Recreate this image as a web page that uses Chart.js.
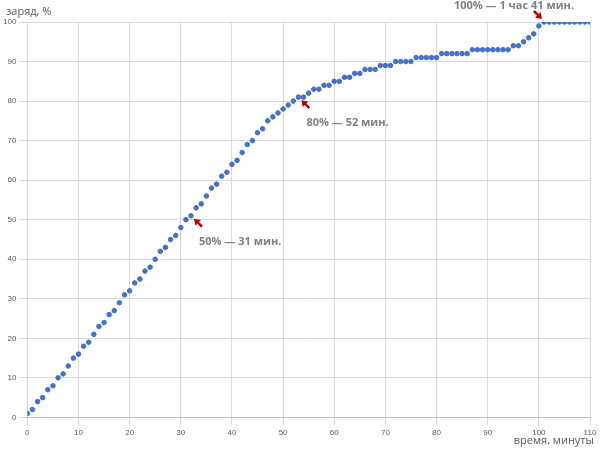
<!DOCTYPE html><html><head><meta charset="utf-8">
<script src="https://cdn.jsdelivr.net/npm/chart.js@4"></script>
<style>body{margin:0;background:#fff}#w{width:600px;height:455px}</style></head><body>
<div id="w"><canvas id="c"></canvas></div>
<script>
const minutes=[...Array(111).keys()];
const charge=[1,2,4,5,7,8,10,11,13,15,16,18,19,21,23,24,26,27,29,31,32,34,35,37,38,40,42,43,45,46,48,50,51,53,54,56,58,59,61,62,64,65,67,69,70,72,73,75,76,77,78,79,80,81,81,82,83,83,84,84,85,85,86,86,87,87,88,88,88,89,89,89,90,90,90,90,91,91,91,91,91,92,92,92,92,92,92,93,93,93,93,93,93,93,93,94,94,95,96,97,99,100,100,100,100,100,100,100,100,100,100,100];
const notes=[{x:32,y:51,t:"50% — 31 мин.",dx:8,dy:26},{x:53,y:81,t:"80% — 52 мин.",dx:8,dy:26},{x:101,y:100,t:"100% — 1 час 41 мин.",dx:-90,dy:-16}];
const ann={id:'ann',afterDatasetsDraw(ch){const c=ch.ctx,xs=ch.scales.x,ys=ch.scales.y;c.save();
notes.forEach(n=>{const px=xs.getPixelForValue(n.x),py=ys.getPixelForValue(n.y);
let ax=px+3,ay=py+3,sx,sy;
if(n.dy<0){ax=px-2;ay=py-3;sx=ax-8;sy=ay-8;}else{sx=ax+8;sy=ay+8;}
c.strokeStyle='#c00000';c.fillStyle='#c00000';c.lineWidth=2.5;c.beginPath();c.moveTo(sx,sy);c.lineTo(ax+(sx-ax)*0.4,ay+(sy-ay)*0.4);c.stroke();
const ang=Math.atan2(ay-sy,ax-sx);c.beginPath();c.moveTo(ax,ay);c.lineTo(ax-7*Math.cos(ang-0.6),ay-7*Math.sin(ang-0.6));c.lineTo(ax-7*Math.cos(ang+0.6),ay-7*Math.sin(ang+0.6));c.closePath();c.fill();
c.fillStyle='#7f7f7f';c.font='bold 11px "Open Sans", sans-serif';c.textBaseline='middle';c.fillText(n.t,px+n.dx,py+n.dy);});
c.fillStyle='#595959';c.font='11px "Open Sans", sans-serif';c.textAlign='left';c.fillText('заряд, %',6,12);
c.textAlign='right';c.fillText('время, минуты',594,441);c.restore();}};
new Chart(document.getElementById('c'),{type:'scatter',data:{datasets:[{data:minutes.map((m,i)=>({x:m,y:charge[i]})),backgroundColor:'#4472c4',borderColor:'#4472c4',pointRadius:2.3}]},
options:{responsive:true,maintainAspectRatio:false,animation:false,layout:{padding:{top:22,right:10,left:0,bottom:14}},plugins:{legend:{display:false},tooltip:{enabled:false}},
scales:{x:{min:0,max:110,ticks:{stepSize:10,font:{size:8},color:'#595959'},grid:{color:'#d9d9d9'},border:{color:'#bfbfbf'}},
y:{min:0,max:100,ticks:{stepSize:10,font:{size:8},color:'#595959'},grid:{color:'#d9d9d9'},border:{display:false}}}},plugins:[ann]});
</script></body></html>
